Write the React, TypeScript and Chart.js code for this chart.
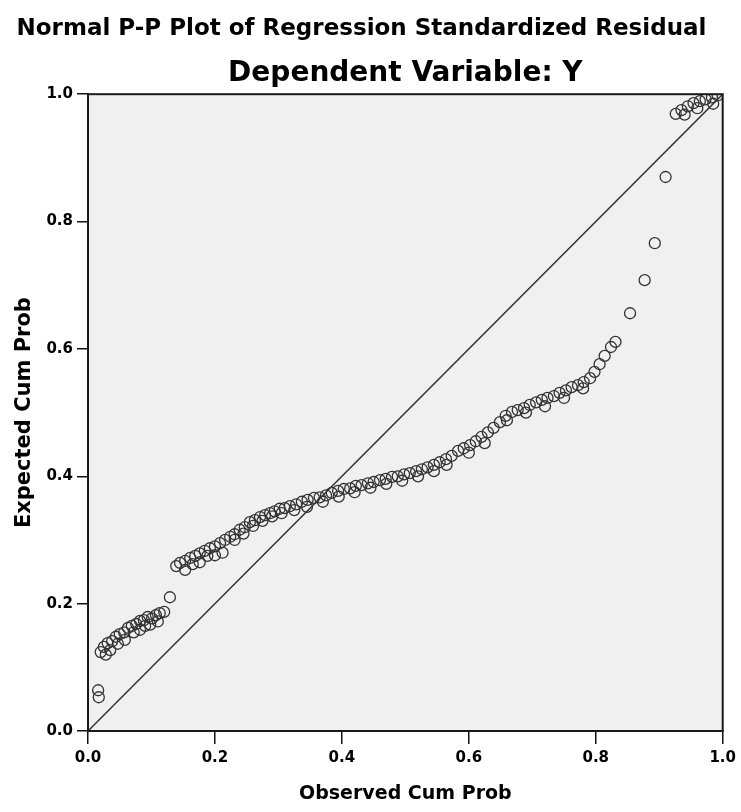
import React, { useEffect, useRef } from "react";
import { Chart, registerables } from "chart.js";

Chart.register(...registerables);

const titleText = "Normal P-P Plot of Regression Standardized Residual";
const subtitleText = "Dependent Variable: Y";
const xAxisTitle = "Observed Cum Prob";
const yAxisTitle = "Expected Cum Prob";
const tickValues = [0, 0.2, 0.4, 0.6, 0.8, 1.0];

// Observed cumulative probability (x)
const observedCumProb = [
  0.016, 0.017,
  0.020, 0.025, 0.031, 0.035, 0.038, 0.044, 0.050, 0.057, 0.058, 0.063, 0.069, 0.076, 0.082, 0.082, 0.088, 0.094, 0.098, 0.101, 0.107, 0.113, 0.120,
  0.129,
  0.139, 0.145, 0.153, 0.153, 0.161, 0.169, 0.176, 0.176, 0.184, 0.192, 0.200, 0.200, 0.208, 0.216, 0.224, 0.231, 0.231, 0.239, 0.247, 0.255, 0.263, 0.271, 0.279, 0.287, 0.294, 0.302, 0.310,
  0.318, 0.328, 0.337, 0.346, 0.356, 0.365, 0.375, 0.384, 0.394, 0.403, 0.413, 0.422, 0.431, 0.441, 0.450, 0.460, 0.469, 0.479, 0.488, 0.498, 0.507, 0.517, 0.526, 0.535, 0.545, 0.554, 0.564, 0.573,
  0.583, 0.592, 0.602, 0.611, 0.620, 0.630, 0.639, 0.649, 0.658, 0.668, 0.677, 0.687, 0.696, 0.706, 0.715, 0.724, 0.734, 0.743, 0.753, 0.762, 0.772, 0.781, 0.791, 0.798, 0.806, 0.814, 0.824, 0.831,
  0.854, 0.877, 0.893, 0.910,
  0.926, 0.935, 0.945, 0.954, 0.964, 0.973, 0.983, 0.992,
  0.028, 0.047, 0.072, 0.090, 0.110,
  0.165, 0.188, 0.212, 0.245, 0.260, 0.275, 0.290, 0.305,
  0.325, 0.345, 0.370, 0.395, 0.420, 0.445, 0.470, 0.495, 0.520, 0.545, 0.565,
  0.600, 0.625, 0.660, 0.690, 0.720, 0.750, 0.780,
  0.940, 0.960, 0.985,
];

// Expected cumulative probability (y)
const expectedCumProb = [
  0.064, 0.053,
  0.124, 0.132, 0.138, 0.127, 0.141, 0.148, 0.152, 0.155, 0.143, 0.162, 0.165, 0.168, 0.173, 0.159, 0.174, 0.179, 0.167, 0.177, 0.182, 0.185, 0.187,
  0.210,
  0.259, 0.264, 0.267, 0.253, 0.272, 0.275, 0.279, 0.265, 0.283, 0.287, 0.290, 0.276, 0.295, 0.300, 0.305, 0.309, 0.300, 0.316, 0.320, 0.328, 0.331, 0.336, 0.339, 0.342, 0.345, 0.349, 0.350,
  0.353, 0.356, 0.360, 0.363, 0.366, 0.367, 0.370, 0.374, 0.377, 0.380, 0.381, 0.385, 0.386, 0.389, 0.391, 0.394, 0.396, 0.399, 0.400, 0.403, 0.405, 0.408, 0.411, 0.414, 0.418, 0.422, 0.427, 0.432,
  0.440, 0.444, 0.449, 0.455, 0.462, 0.469, 0.476, 0.485, 0.495, 0.501, 0.504, 0.507, 0.512, 0.516, 0.520, 0.523, 0.526, 0.531, 0.535, 0.540, 0.543, 0.548, 0.554, 0.564, 0.576, 0.589, 0.603, 0.611,
  0.656, 0.708, 0.766, 0.870,
  0.969, 0.975, 0.981, 0.986, 0.989, 0.992, 0.995, 0.998,
  0.120, 0.137, 0.155, 0.165, 0.172,
  0.262, 0.275, 0.280, 0.310, 0.322, 0.330, 0.337, 0.342,
  0.347, 0.352, 0.360, 0.368, 0.375, 0.382, 0.388, 0.393, 0.400, 0.408, 0.418,
  0.437, 0.452, 0.488, 0.500, 0.510, 0.523, 0.538,
  0.968, 0.978, 0.985,
];

const diagonalX = [0, 1];
const diagonalY = [0, 1];

const plotFrame = {
  id: "plotFrame",
  beforeDatasetsDraw(chart: any) {
    const { ctx, chartArea } = chart;
    ctx.save();
    ctx.fillStyle = "#F0F0F0";
    ctx.fillRect(chartArea.left, chartArea.top, chartArea.width, chartArea.height);
    ctx.restore();
  },
  afterDraw(chart: any) {
    const { ctx, chartArea } = chart;
    ctx.save();
    ctx.strokeStyle = "#1a1a1a";
    ctx.lineWidth = 2;
    ctx.strokeRect(chartArea.left, chartArea.top, chartArea.width, chartArea.height);
    ctx.restore();
  },
};

export default function App() {
  const canvasRef = useRef<HTMLCanvasElement | null>(null);

  useEffect(() => {
    if (!canvasRef.current) return;
    const points = observedCumProb.map((x, i) => ({ x, y: expectedCumProb[i] }));
    const diag = diagonalX.map((x, i) => ({ x, y: diagonalY[i] }));
    const chart = new Chart(canvasRef.current, {
      type: "scatter",
      data: {
        datasets: [
          {
            type: "line",
            label: "Diagonal",
            data: diag,
            borderColor: "#333",
            borderWidth: 1.5,
            pointRadius: 0,
            fill: false,
          } as any,
          {
            label: "Residuals",
            data: points,
            pointStyle: "circle",
            pointRadius: 5.5,
            borderColor: "#333",
            borderWidth: 1.3,
            backgroundColor: "rgba(0,0,0,0)",
          },
        ],
      },
      options: {
        animation: false,
        responsive: false,
        maintainAspectRatio: false,
        layout: { padding: { left: 0, right: 18, top: 0, bottom: 0 } },
        plugins: {
          legend: { display: false },
          tooltip: { enabled: false },
          title: {
            display: true,
            text: titleText,
            color: "#000",
            font: { family: "'DejaVu Sans', sans-serif", size: 23, weight: "bold", lineHeight: 1.2 },
            padding: { top: 15, bottom: 14 },
          },
          subtitle: {
            display: true,
            fullSize: false,
            text: subtitleText,
            color: "#000",
            font: { family: "'DejaVu Sans', sans-serif", size: 28, weight: "bold", lineHeight: 1.2 },
            padding: { top: 0, bottom: 4 },
          },
        },
        scales: {
          x: {
            type: "linear",
            min: 0,
            max: 1,
            afterBuildTicks: (scale: any) => {
              scale.ticks = tickValues.map((v) => ({ value: v }));
            },
            afterFit: (scale: any) => {
              scale.height = 81;
            },
            ticks: {
              color: "#000",
              font: { family: "'DejaVu Sans', sans-serif", size: 15, weight: "bold" },
              padding: 5,
              maxRotation: 0,
              callback: (v: any) => Number(v).toFixed(1),
            },
            grid: { display: true, drawOnChartArea: false, drawTicks: true, tickLength: 13, color: "#111", lineWidth: 1.5 },
            border: { display: true, color: "#1a1a1a", width: 2 },
            title: {
              display: true,
              text: xAxisTitle,
              color: "#000",
              font: { family: "'DejaVu Sans', sans-serif", size: 19, weight: "bold" },
              padding: { top: 0, bottom: 7 },
            },
          },
          y: {
            type: "linear",
            min: 0,
            max: 1,
            afterBuildTicks: (scale: any) => {
              scale.ticks = tickValues.map((v) => ({ value: v }));
            },
            afterFit: (scale: any) => {
              scale.width = 88;
            },
            ticks: {
              color: "#000",
              font: { family: "'DejaVu Sans', sans-serif", size: 15, weight: "bold" },
              padding: 4,
              callback: (v: any) => Number(v).toFixed(1),
            },
            grid: { display: true, drawOnChartArea: false, drawTicks: true, tickLength: 11, color: "#111", lineWidth: 1.5 },
            border: { display: true, color: "#1a1a1a", width: 2 },
            title: {
              display: true,
              text: yAxisTitle,
              color: "#000",
              font: { family: "'DejaVu Sans', sans-serif", size: 21, weight: "bold" },
              padding: { top: 12, bottom: 0 },
            },
          },
        },
      },
      plugins: [plotFrame],
    });
    return () => chart.destroy();
  }, []);

  return (
    <div style={{ position: "absolute", left: 0, top: 0, width: 741, height: 812, background: "#fff" }}>
      <canvas ref={canvasRef} width={741} height={812} style={{ display: "block", width: 741, height: 812 }} />
    </div>
  );
}
